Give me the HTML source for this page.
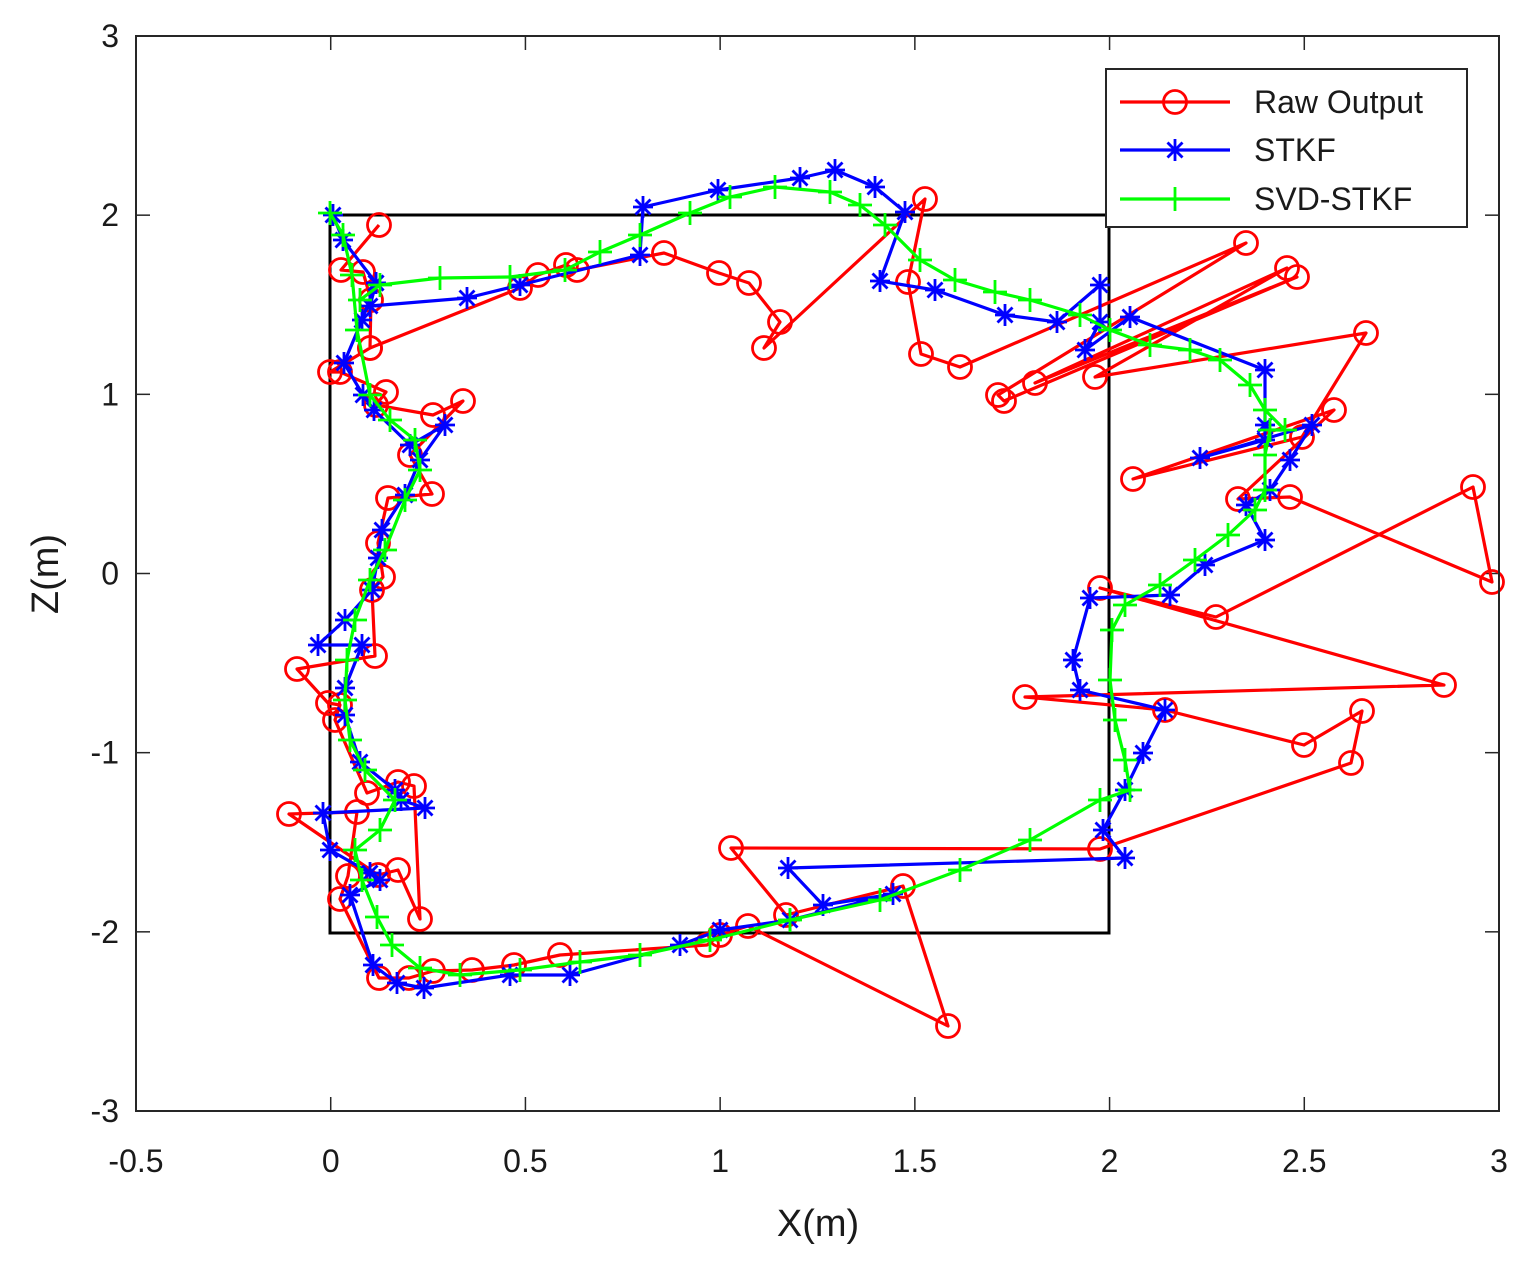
<!DOCTYPE html>
<html><head><meta charset="utf-8"><style>
html,body{margin:0;padding:0;background:#fff}
svg text{font-family:"Liberation Sans",Arial,sans-serif;fill:#1a1a1a}
</style></head><body>
<svg id="s" width="1533" height="1263" xmlns="http://www.w3.org/2000/svg">
<rect x="0" y="0" width="1533" height="1263" fill="#fff"/>
<defs>
<g id="mc"><circle r="11.5" fill="none" stroke="#f00" stroke-width="2.8"/></g>
<g id="ms" stroke="#00f" stroke-width="2.8"><line x1="-10" y1="0" x2="10" y2="0"/><line x1="0" y1="-11" x2="0" y2="11"/><line x1="-7.5" y1="-7.5" x2="7.5" y2="7.5"/><line x1="-7.5" y1="7.5" x2="7.5" y2="-7.5"/></g>
<g id="mp" stroke="#0f0" stroke-width="2.8"><line x1="-12" y1="0" x2="12" y2="0"/><line x1="0" y1="-12" x2="0" y2="12"/></g>
</defs>
<g id="axes"></g>
<rect x="330" y="215" width="779" height="718" fill="none" stroke="#000" stroke-width="3"/>
<g id="data"></g>
<rect x="136" y="36" width="1363" height="1075" fill="none" stroke="#262626" stroke-width="2"/>
<g>
<rect x="1106" y="69" width="361" height="158" fill="#fff" stroke="#262626" stroke-width="2"/>
<line x1="1120" y1="102" x2="1230" y2="102" stroke="#f00" stroke-width="3.2"/><use href="#mc" x="1175" y="102"/>
<line x1="1120" y1="150" x2="1230" y2="150" stroke="#00f" stroke-width="3.2"/><use href="#ms" x="1175" y="150"/>
<line x1="1120" y1="199" x2="1230" y2="199" stroke="#0f0" stroke-width="3.2"/><use href="#mp" x="1175" y="199"/>
<text x="1254" y="113" font-size="32">Raw Output</text>
<text x="1254" y="161" font-size="32">STKF</text>
<text x="1254" y="210" font-size="32">SVD-STKF</text>
</g>
<text x="818" y="1236" font-size="38" text-anchor="middle">X(m)</text>
<text transform="translate(58,574) rotate(-90)" font-size="38" text-anchor="middle">Z(m)</text>
</svg>
<script>
var NS="http://www.w3.org/2000/svg";
function el(p,t,a,txt){var e=document.createElementNS(NS,t);for(var k in a)e.setAttribute(k,a[k]);if(txt!=null)e.textContent=txt;p.appendChild(e);return e;}
var ax=document.getElementById('axes');
var xl=["-0.5","0","0.5","1","1.5","2","2.5","3"];
for(var i=0;i<8;i++){var x=136+i*(1363/7);
 el(ax,'line',{x1:x,y1:1111,x2:x,y2:1097,stroke:'#262626','stroke-width':1.5});
 el(ax,'line',{x1:x,y1:36,x2:x,y2:50,stroke:'#262626','stroke-width':1.5});
 el(ax,'text',{x:x,y:1172,'font-size':32,'text-anchor':'middle'},xl[i]);}
var yl=["3","2","1","0","-1","-2","-3"];
for(var i=0;i<7;i++){var y=36+i*(1075/6);
 el(ax,'line',{x1:136,y1:y,x2:150,y2:y,stroke:'#262626','stroke-width':1.5});
 el(ax,'line',{x1:1499,y1:y,x2:1485,y2:y,stroke:'#262626','stroke-width':1.5});
 el(ax,'text',{x:119,y:y+11,'font-size':32,'text-anchor':'end'},yl[i]);}
var R=[[379,225],[341,270],[363,272],[371,300],[370,348],[330,372],[340,372],[386,392],[376,405],[433,415],[463,401],[410,455],[432,494],[388,498],[378,543],[383,577],[372,590],[375,656],[297,669],[328,703],[340,705],[335,720],[367,793],[398,782],[414,786],[420,919],[398,870],[378,875],[289,814],[357,812],[348,876],[340,899],[379,978],[409,978],[433,971],[472,970],[514,965],[560,955],[707,945],[720,935],[748,926],[948,1026],[903,886],[786,915],[731,848],[1100,849],[1351,763],[1362,711],[1304,745],[1165,710],[1025,697],[1444,685],[1100,588],[1216,617],[1473,487],[1492,582],[1290,497],[1238,499],[1334,410],[1133,479],[1302,437],[1366,333],[1095,377],[1287,268],[1035,383],[1297,277],[1004,401],[998,395],[1246,243],[960,367],[921,354],[908,282],[925,199],[764,348],[780,322],[749,283],[719,273],[664,253],[577,270],[566,265],[538,275],[520,288],[370,348]];
var B=[[333,215],[343,240],[376,283],[370,306],[467,298],[520,285],[640,255],[643,207],[718,190],[800,178],[835,170],[875,187],[905,212],[880,281],[935,290],[1005,315],[1057,322],[1100,285],[1100,322],[1085,350],[1130,317],[1265,370],[1265,425],[1265,440],[1200,458],[1312,425],[1290,460],[1270,490],[1246,505],[1265,540],[1205,565],[1170,595],[1090,598],[1073,660],[1080,690],[1165,710],[1143,753],[1125,790],[1103,830],[1125,858],[788,868],[823,905],[893,894],[790,920],[720,930],[680,945],[570,975],[510,975],[424,988],[397,983],[373,965],[350,895],[380,880],[370,873],[330,850],[323,813],[425,808],[401,800],[395,790],[360,762],[345,715],[345,688],[362,645],[318,645],[345,620],[372,590],[378,558],[382,530],[405,495],[420,460],[445,425],[410,445],[374,410],[363,395],[344,363],[362,320],[376,283]];
var G=[[330,213],[343,235],[352,275],[357,330],[370,395],[390,420],[415,440],[420,470],[405,500],[385,550],[370,580],[355,620],[347,660],[345,700],[350,740],[365,770],[395,800],[380,830],[355,850],[362,880],[377,917],[392,945],[420,968],[460,975],[520,970],[580,962],[640,955],[710,940],[790,920],[880,900],[960,870],[1030,840],[1100,800],[1130,790],[1125,760],[1115,720],[1110,680],[1112,630],[1125,605],[1160,585],[1195,560],[1228,535],[1255,510],[1265,490],[1265,455],[1270,430],[1285,430],[1265,410],[1250,385],[1220,360],[1190,350],[1150,345],[1110,330],[1080,315],[1030,300],[995,292],[955,280],[920,260],[885,225],[860,205],[830,192],[775,187],[730,197],[690,213],[640,235],[600,252],[565,270],[510,277],[440,278],[380,285],[360,300]];
var d=document.getElementById('data');
function draw(P,col,m){el(d,'polyline',{points:P.map(function(p){return p.join(',')}).join(' '),fill:'none',stroke:col,'stroke-width':3.2,'stroke-linejoin':'round'});
 P.forEach(function(p){el(d,'use',{href:'#'+m,x:p[0],y:p[1]});});}
draw(R,'#f00','mc');draw(B,'#00f','ms');draw(G,'#0f0','mp');
</script>
</body></html>
